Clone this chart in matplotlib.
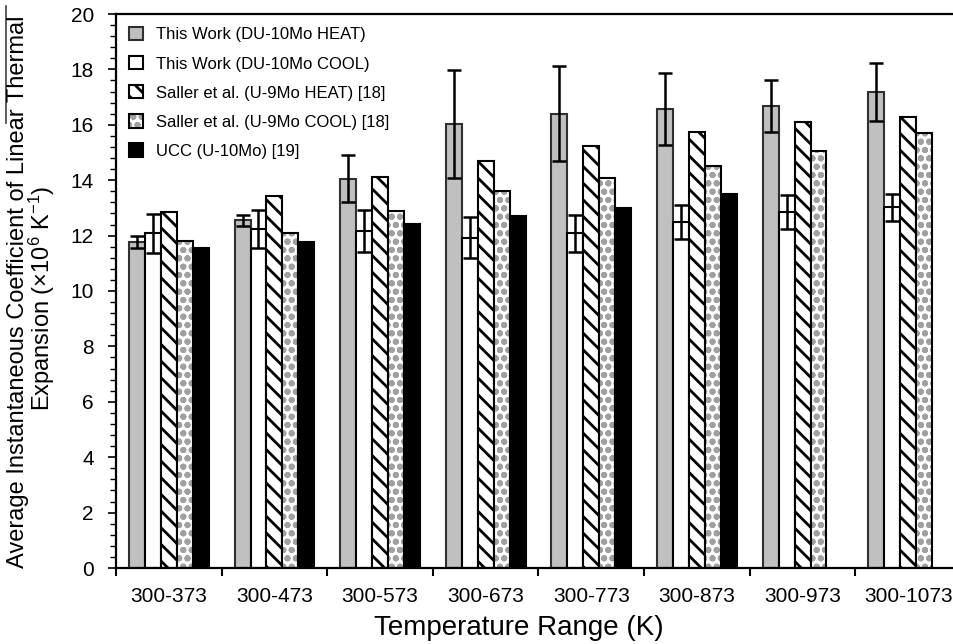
import numpy as np
import matplotlib
matplotlib.use("Agg")
import matplotlib.pyplot as plt
from matplotlib.patches import Patch
from matplotlib.legend_handler import HandlerTuple
from matplotlib.lines import Line2D

plt.rcParams['font.family'] = ['Liberation Sans', 'DejaVu Sans']
plt.rcParams['mathtext.fontset'] = 'custom'
plt.rcParams['mathtext.rm'] = 'Liberation Sans'
plt.rcParams['mathtext.it'] = 'Liberation Sans'
plt.rcParams['hatch.linewidth'] = 2.0

categories = ['300-373', '300-473', '300-573', '300-673', '300-773', '300-873', '300-973', '300-1073']
heat = [11.78, 12.55, 14.05, 16.03, 16.40, 16.56, 16.68, 17.18]
heat_err = [0.21, 0.20, 0.85, 1.95, 1.72, 1.30, 0.93, 1.05]
cool = [12.08, 12.24, 12.17, 11.92, 12.09, 12.48, 12.85, 13.02]
cool_err = [0.70, 0.68, 0.75, 0.74, 0.67, 0.61, 0.60, 0.49]
saller_heat = [12.86, 13.43, 14.10, 14.70, 15.23, 15.74, 16.10, 16.27]
saller_cool = [11.79, 12.10, 12.88, 13.60, 14.07, 14.52, 15.07, 15.72]
ucc = [11.54, 11.77, 12.42, 12.72, 13.01, 13.50, np.nan, np.nan]

labels = ['This Work (DU-10Mo HEAT)', 'This Work (DU-10Mo COOL)',
          'Saller et al. (U-9Mo HEAT) [18]', 'Saller et al. (U-9Mo COOL) [18]',
          'UCC (U-10Mo) [19]']

fig = plt.figure(figsize=(9.54, 6.44), dpi=100)
ax = fig.add_axes([116/954, 76/644, 845/954, 554/644])

x = np.arange(len(categories))
w = 0.151
lw = 1.5
dot_col = '#a0a0a0'
dot_hatch = 'oo'

ax.bar(x - 2*w, heat, w, color='#c0c0c0', edgecolor='#303030', linewidth=lw, zorder=2)
ax.errorbar(x - 2*w, heat, yerr=heat_err, fmt='none', ecolor='black',
            elinewidth=1.8, capsize=4.8, capthick=1.8, zorder=4)
ax.bar(x - w, cool, w, color='white', edgecolor='black', linewidth=lw, zorder=2)
ax.errorbar(x - w, cool, yerr=cool_err, fmt='none', ecolor='black',
            elinewidth=1.8, capsize=4.8, capthick=1.8, zorder=4)
ax.bar(x, saller_heat, w, color='white', edgecolor='black', hatch='\\\\', linewidth=lw, zorder=2)
ax.bar(x + w, saller_cool, w, color='white', edgecolor=dot_col, hatch=dot_hatch, linewidth=0, zorder=2)
ax.bar(x + w, saller_cool, w, fill=False, edgecolor='black', linewidth=lw, zorder=3)
ucc_arr = np.array(ucc, dtype=float)
mask = ~np.isnan(ucc_arr)
ax.bar(x[mask] + 2*w, ucc_arr[mask], w, color='black', edgecolor='black', linewidth=lw, zorder=2)

ax.set_xlim(-0.5, len(categories) - 0.5)
ax.set_ylim(0, 20)
ax.set_yticks(np.arange(0, 21, 2))
ax.set_yticks(np.arange(0, 20.01, 0.4), minor=True)
ax.set_xticks(x)
ax.set_xticklabels(categories, fontsize=15)
ax.set_xticks(np.arange(-0.5, len(categories), 1.0), minor=True)
ax.tick_params(axis='x', which='major', length=0, pad=14)
ax.tick_params(axis='x', which='minor', length=6, width=1.5, direction='out')
ax.tick_params(axis='y', which='major', length=6, width=1.2, labelsize=15, pad=10)
ax.tick_params(axis='y', which='minor', length=4, width=1.0)
for s in ['left', 'bottom', 'top']:
    ax.spines[s].set_linewidth(1.6)
ax.spines['right'].set_visible(False)

# legend
h_heat = Patch(facecolor='#c0c0c0', edgecolor='#303030', linewidth=1.5)
h_cool = Patch(facecolor='white', edgecolor='black', linewidth=1.5)
h_sh = Patch(facecolor='white', edgecolor='black', hatch='\\\\', linewidth=1.5)
h_sc = (Patch(facecolor='white', edgecolor=dot_col, hatch=dot_hatch, linewidth=0),
        Patch(fill=False, edgecolor='black', linewidth=1.5))
h_ucc = Patch(facecolor='black', edgecolor='black', linewidth=1.5)
ax.legend([h_heat, h_cool, h_sh, h_sc, h_ucc], labels,
          handler_map={tuple: HandlerTuple(ndivide=1, pad=0)},
          loc='upper left', bbox_to_anchor=(0.0, 1.0), frameon=False,
          fontsize=12, handlelength=0.85, handleheight=0.85, handletextpad=0.75,
          labelspacing=0.82, borderaxespad=0.38)

fig.text(519/954, 1 - 628/644, 'Temperature Range (K)', fontsize=20,
         ha='center', va='center')
fig.text(18/954, 1 - 292/644, 'Average Instantaneous Coefficient of Linear Thermal',
         fontsize=17, rotation=90, ha='center', va='center')
fig.text(42/954, 1 - 298/644, r'Expansion (×10$^{6}$ K$^{-1}$)',
         fontsize=17, rotation=90, ha='center', va='center')
fig.add_artist(Line2D([6/954, 6/954], [1 - 123/644, 1 - 6/644],
                      transform=fig.transFigure, color='#404040', linewidth=1.2))

fig.savefig('out.png', dpi=100)
